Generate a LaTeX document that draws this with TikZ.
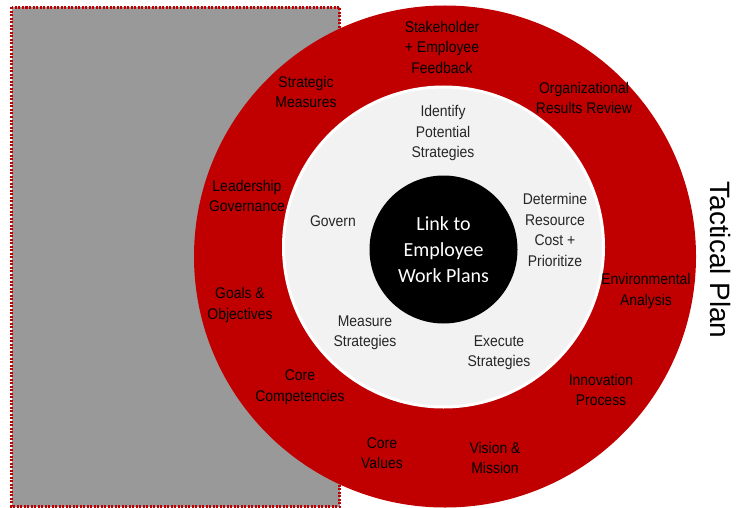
\documentclass[tikz,border=0pt]{standalone}
\usepackage{fontspec}
\setmainfont{Liberation Sans}[FakeStretch=0.9]
\newfontfamily\hubfont{Carlito}
\newfontfamily\titlefont{Liberation Sans}
\definecolor{ringred}{HTML}{C00000}
\definecolor{hubgray}{HTML}{F2F2F2}
\definecolor{boxgray}{HTML}{999999}
\tikzset{
  ringlabel/.style={align=center,inner sep=0pt,text=black,font=\fontsize{15.5}{20.5}\selectfont},
  steplabel/.style={align=center,inner sep=0pt,text=black!85,font=\fontsize{15.5}{20.5}\selectfont},
}
\begin{document}
\begin{tikzpicture}[x=1pt,y=-1pt]

\useasboundingbox (0,0) rectangle (738,508);

% grey panel behind the ring
\draw [ringred,line width=2.5pt,dash pattern=on 2pt off 1.5pt,fill=boxgray] (11.5,7.5) rectangle (339.5,506.5);

% rings
\coordinate (C) at (445,256.5);
\coordinate (H) at (443.5,247);
\coordinate (K) at (443.5,249.5);
\fill [ringred] (C) circle (251pt);
\draw [white,line width=3pt,fill=hubgray] (H) circle (160pt);
\fill [black] (K) circle (74pt);

\node[align=center,text=white,inner sep=0pt,font=\hubfont\fontsize{20}{26}\selectfont] (hub) at (K) {Link to\\Employee\\Work Plans};

% outer ring
\node[ringlabel] (feedback) at (442,47) {Stakeholder\\+ Employee\\Feedback};
\node[ringlabel] (review) at (584,98) {Organizational\\Results Review};
\node[ringlabel] (environ) at (646,291) {Environmental\\Analysis};
\node[ringlabel] (innov) at (601,390) {Innovation\\Process};
\node[ringlabel] (vision) at (495,458) {Vision \&\\Mission};
\node[ringlabel] (values) at (382,453) {Core\\Values};
\node[ringlabel] (compet) at (300,387) {Core\\Competencies};
\node[ringlabel] (goals) at (240,305) {Goals \&\\Objectives};
\node[ringlabel] (leader) at (247,196) {Leadership\\Governance};
\node[ringlabel] (measures) at (306,92) {Strategic\\Measures};

% inner ring
\node[steplabel] (identify) at (443,133) {Identify\\Potential\\Strategies};
\node[steplabel] (determine) at (555,230) {Determine\\Resource\\Cost +\\Prioritize};
\node[steplabel] (execute) at (499,353) {Execute\\Strategies};
\node[steplabel] (measure) at (365,333) {Measure\\Strategies};
\node[steplabel] (govern) at (333,221) {Govern};

\node[rotate=-90,inner sep=0pt,font=\titlefont\fontsize{28}{30}\selectfont] (title) at (720,260) {Tactical Plan};

\end{tikzpicture}
\end{document}
